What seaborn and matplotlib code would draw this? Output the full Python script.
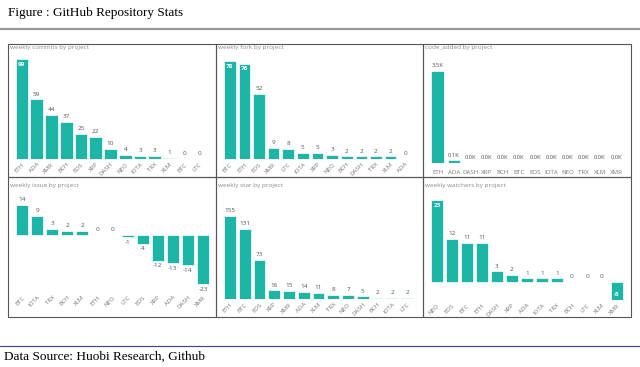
import pandas as pd
import matplotlib.pyplot as plt
import seaborn as sns
from matplotlib.patches import Rectangle
from matplotlib.lines import Line2D

sns.set_style("white")
plt.rcParams['font.family'] = ['Open Sans', 'DejaVu Sans']

# data
commit_names = ["ETH", "ADA", "XMR", "BCH", "EOS", "XRP", "DASH", "NEO", "IOTA", "TRX", "XLM", "BTC", "LTC"]
commit_vals = [99, 59, 44, 37, 25, 22, 10, 4, 3, 3, 1, 0, 0]

fork_names = ["BTC", "ETH", "EOS", "XMR", "LTC", "IOTA", "XRP", "NEO", "BCH", "DASH", "TRX", "XLM", "ADA"]
fork_vals = [78, 76, 52, 9, 8, 5, 5, 3, 2, 2, 2, 2, 0]

code_names = ["ETH", "ADA", "DASH", "XRP", "BCH", "BTC", "EOS", "IOTA", "NEO", "TRX", "XLM", "XMR"]
code_vals = [3500, 100, 15, 12, 0, 0, 0, 0, 0, 0, 0, 0]

issue_names = ["BTC", "IOTA", "TRX", "BCH", "XLM", "ETH", "NEO", "LTC", "EOS", "XRP", "ADA", "DASH", "XMR"]
issue_vals = [14, 9, 3, 2, 2, 0, 0, -1, -4, -12, -13, -14, -23]

star_names = ["ETH", "BTC", "EOS", "XRP", "XMR", "ADA", "XLM", "TRX", "NEO", "DASH", "BCH", "IOTA", "LTC"]
star_vals = [155, 131, 73, 16, 15, 14, 11, 8, 7, 5, 2, 2, 2]

watch_names = ["NEO", "EOS", "BTC", "ETH", "DASH", "XRP", "ADA", "IOTA", "TRX", "BCH", "LTC", "XLM", "XMR"]
watch_vals = [23, 12, 11, 11, 3, 2, 1, 1, 1, 0, 0, 0, -5]

TEAL = "#1DB5A6"
W, H = 640, 367
fig = plt.figure(figsize=(6.4, 3.67), dpi=100)


def px_axes(left, right, top, bottom):
    return fig.add_axes([left / W, 1 - bottom / H, (right - left) / W, (bottom - top) / H])


def panel(title, names, vals, box, zero, ppu, inside=(), rot=True, fmt=str, width=0.82):
    left, right, top, bottom = box
    ax = px_axes(left, right, top, bottom)
    df = pd.DataFrame({"project": names, "value": vals})
    sns.barplot(data=df, x="project", y="value", color=TEAL, saturation=1,
                width=width, edgecolor="white", linewidth=0.5, ax=ax)
    ax.set_ylim(-(bottom - zero) / ppu, (zero - top) / ppu)
    ax.set_xlim(-0.6, len(names) - 0.4)
    for s in ax.spines.values():
        s.set_visible(False)
    ax.set_yticks([])
    ax.set_xlabel("")
    ax.set_ylabel("")
    if rot:
        ax.set_xticks(range(len(names)))
        ax.set_xticklabels(names, rotation=45, ha="right", rotation_mode="anchor")
        ax.tick_params(axis="x", length=0, pad=2, labelsize=4.4, labelcolor="#777777")
    else:
        ax.tick_params(axis="x", length=0, pad=5, labelsize=4.4, labelcolor="#777777")
    for i, v in enumerate(vals):
        if i in inside:
            dy = -2 if v >= 0 else 2
            ax.annotate(fmt(v), (i, v), xytext=(0, dy), textcoords="offset points",
                        ha="center", va="top" if v >= 0 else "bottom",
                        fontsize=4.6, color="white", fontweight="bold")
        else:
            dy = 2 if v >= 0 else -2
            ax.annotate(fmt(v), (i, v), xytext=(0, dy), textcoords="offset points",
                        ha="center", va="bottom" if v >= 0 else "top",
                        fontsize=4.6 if rot else 4.2, color="#555555")
    fig.text((left - 3) / W, 1 - (top - 5) / H, title, fontsize=4.6, color="#8a8a8a",
             ha="left", va="center")
    return ax


panel("weekly commits by project", commit_names, commit_vals,
      (13, 208, 52, 159), 159, 100 / 99, inside=(0,), width=0.86)
panel("weekly fork by project", fork_names, fork_vals,
      (221, 414, 52, 159), 159, 98 / 78, inside=(0, 1), width=0.8)
panel("code_added by project", code_names, code_vals,
      (428, 626, 52, 163), 163, 92 / 3500, rot=False,
      fmt=lambda v: f"{v / 1000:.1f}K", width=0.78)
panel("weekly issue by project", issue_names, issue_vals,
      (13, 212, 190, 292), 235, 2.14, width=0.8)
panel("weekly star by project", star_names, star_vals,
      (221, 416, 190, 299), 299, 83 / 155, width=0.8)
panel("weekly watchers by project", watch_names, watch_vals,
      (428, 626, 190, 300), 282, 3.57, inside=(0, 12), width=0.8)

# panel borders
for (x0, x1) in [(8, 216), (216, 423), (423, 631)]:
    for (y0, y1) in [(44, 177), (177, 317)]:
        fig.patches.append(Rectangle((x0 / W, 1 - y1 / H), (x1 - x0) / W, (y1 - y0) / H,
                                     transform=fig.transFigure, fill=False,
                                     edgecolor="#555555", linewidth=0.8))

# header and footer
serif = ["Liberation Serif", "DejaVu Serif"]
fig.text(8 / W, 1 - 13 / H, "Figure : GitHub Repository Stats", fontsize=9.5,
         family=serif, ha="left", va="center", color="black")
fig.lines.append(Line2D([0, 1], [1 - 29 / H, 1 - 29 / H], transform=fig.transFigure,
                        color="#9a9a9a", linewidth=1.6))
fig.lines.append(Line2D([0, 1], [1 - 346 / H, 1 - 346 / H], transform=fig.transFigure,
                        color="#3a3aa0", linewidth=0.8))
fig.text(4 / W, 1 - 357 / H, "Data Source: Huobi Research, Github", fontsize=9.5,
         family=serif, ha="left", va="center", color="black")

fig.savefig("out.png", dpi=100, facecolor="white")
